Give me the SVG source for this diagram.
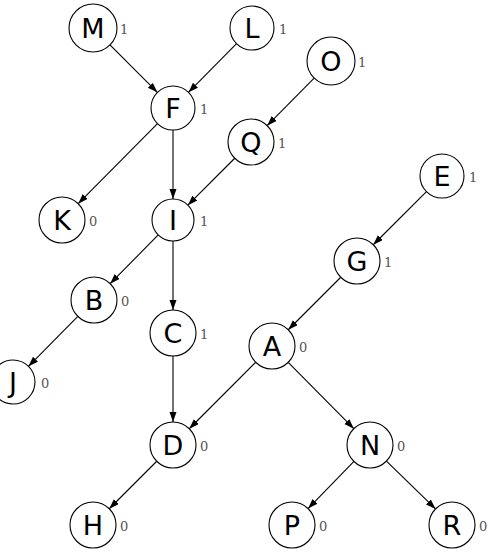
<svg xmlns="http://www.w3.org/2000/svg" width="490" height="552" viewBox="0 0 490 552">
<style>
.n circle{fill:#fff;stroke:#000;stroke-width:1.1}
.n text.l{font-family:"DejaVu Sans",sans-serif;font-size:27px;text-anchor:middle;fill:#000}
.n text.c{font-family:"DejaVu Serif",serif;font-size:13px;fill:#555}
#edges line{stroke:#000;stroke-width:1.1;marker-end:url(#ah)}
</style>
<defs>
<marker id="ah" markerUnits="userSpaceOnUse" markerWidth="11" markerHeight="8" refX="10" refY="3.5" orient="auto">
<path d="M0,0 L10,3.5 L0,7 z" fill="#000"/>
</marker>
</defs>
<rect width="490" height="552" fill="#fff"/>
<g id="edges">
<line x1="109.97" y1="44.97" x2="157.44" y2="92.44"/>
<line x1="236.54" y1="43.65" x2="188.46" y2="92.35"/>
<line x1="314.14" y1="78.08" x2="267.16" y2="125.64"/>
<line x1="157.51" y1="123.63" x2="78.19" y2="203.66"/>
<line x1="173" y1="130" x2="173" y2="199"/>
<line x1="234.74" y1="158.26" x2="187.85" y2="205.15"/>
<line x1="158.24" y1="234.94" x2="110.16" y2="283.63"/>
<line x1="173" y1="241" x2="173" y2="310"/>
<line x1="77.84" y1="316.36" x2="28.46" y2="366.35"/>
<line x1="173" y1="356" x2="173" y2="422"/>
<line x1="426.44" y1="191.56" x2="373.26" y2="244.74"/>
<line x1="340.74" y1="277.26" x2="288.26" y2="329.74"/>
<line x1="255.74" y1="362.26" x2="189.26" y2="428.74"/>
<line x1="288.18" y1="362.35" x2="353.82" y2="428.65"/>
<line x1="156.74" y1="461.26" x2="109.26" y2="508.74"/>
<line x1="353.94" y1="461.47" x2="308.06" y2="508.53"/>
<line x1="386.46" y1="461.06" x2="435.54" y2="508.94"/>
</g>
<g id="M" class="n"><circle cx="93" cy="28" r="24"/><text class="l" x="93" y="37.5">M</text><text class="c" x="120" y="34">1</text></g>
<g id="L" class="n"><circle cx="252" cy="28" r="22"/><text class="l" x="252" y="37.5">L</text><text class="c" x="279" y="34">1</text></g>
<g id="O" class="n"><circle cx="331" cy="61" r="24"/><text class="l" x="331" y="70.5">O</text><text class="c" x="358" y="67">1</text></g>
<g id="F" class="n"><circle cx="173" cy="108" r="22"/><text class="l" x="173" y="117.5">F</text><text class="c" x="200" y="114">1</text></g>
<g id="Q" class="n"><circle cx="251" cy="142" r="23"/><text class="l" x="251" y="151.5">Q</text><text class="c" x="278" y="148">1</text></g>
<g id="E" class="n"><circle cx="442" cy="176" r="22"/><text class="l" x="442" y="185.5">E</text><text class="c" x="469" y="182">1</text></g>
<g id="K" class="n"><circle cx="62" cy="220" r="23"/><text class="l" x="62" y="229.5">K</text><text class="c" x="89" y="226">0</text></g>
<g id="I" class="n"><circle cx="173" cy="220" r="21"/><text class="l" x="173" y="229.5">I</text><text class="c" x="200" y="226">1</text></g>
<g id="G" class="n"><circle cx="357" cy="261" r="23"/><text class="l" x="357" y="270.5">G</text><text class="c" x="384" y="267">1</text></g>
<g id="B" class="n"><circle cx="94" cy="300" r="23"/><text class="l" x="94" y="309.5">B</text><text class="c" x="121" y="306">0</text></g>
<g id="C" class="n"><circle cx="173" cy="333" r="23"/><text class="l" x="173" y="342.5">C</text><text class="c" x="200" y="339">1</text></g>
<g id="A" class="n"><circle cx="272" cy="346" r="23"/><text class="l" x="272" y="355.5">A</text><text class="c" x="299" y="352">0</text></g>
<g id="J" class="n"><circle cx="13" cy="382" r="22"/><text class="l" x="13" y="391.5">J</text><text class="c" x="41" y="388">0</text></g>
<g id="D" class="n"><circle cx="173" cy="445" r="23"/><text class="l" x="173" y="454.5">D</text><text class="c" x="200" y="451">0</text></g>
<g id="N" class="n"><circle cx="370" cy="445" r="23"/><text class="l" x="370" y="454.5">N</text><text class="c" x="397" y="451">0</text></g>
<g id="H" class="n"><circle cx="93" cy="525" r="23"/><text class="l" x="93" y="534.5">H</text><text class="c" x="120" y="531">0</text></g>
<g id="P" class="n"><circle cx="292" cy="525" r="23"/><text class="l" x="292" y="534.5">P</text><text class="c" x="319" y="531">0</text></g>
<g id="R" class="n"><circle cx="452" cy="525" r="23"/><text class="l" x="452" y="534.5">R</text><text class="c" x="479" y="531">0</text></g>
</svg>
